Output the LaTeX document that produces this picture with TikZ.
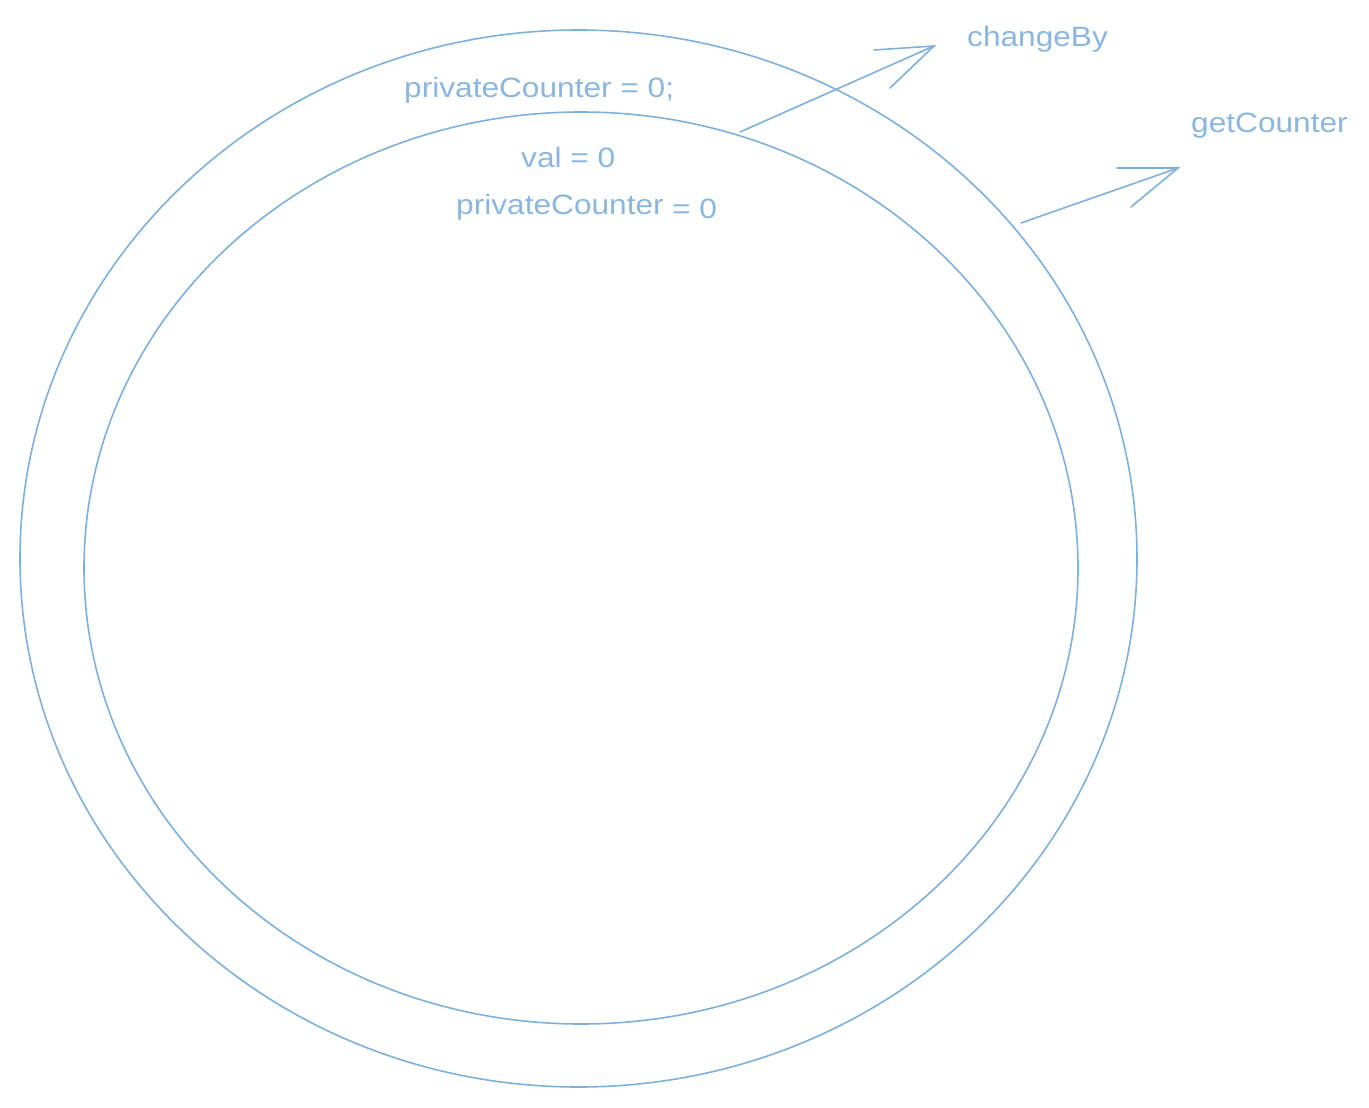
\documentclass[tikz,border=0pt]{standalone}
\usepackage{fontspec}
\setmainfont{Liberation Sans}
\usetikzlibrary{shapes.geometric}
\definecolor{linec}{RGB}{126,176,222}
\definecolor{textc}{RGB}{138,182,224}
\newcommand{\lbltext}[1]{\scalebox{1.13}[1]{\fontsize{28}{32}\selectfont #1}}
\begin{document}
\begin{tikzpicture}[x=1pt,y=-1pt,
  ring/.style={draw=linec,line width=1.6pt,ellipse,inner sep=0pt},
  conn/.style={draw=linec,line width=1.6pt,line cap=round},
  lbl/.style={text=textc,inner sep=0pt,anchor=base west}]
\useasboundingbox (0,0) rectangle (1369,1108);
\node[ring,minimum width=1117pt,minimum height=1057pt] (outer) at (578.5,558.5) {};
\node[ring,minimum width=994pt,minimum height=912pt] (inner) at (581,568) {};
\node[lbl] (pc0) at (404,97) {\lbltext{privateCounter = 0;}};
\node[lbl] (val) at (521,167) {\lbltext{val = 0}};
\node[lbl] (pc) at (456,214) {\lbltext{privateCounter}};
\node[lbl] (eq) at (672,218) {\lbltext{= 0}};
\node[lbl] (chg) at (967,47) {\lbltext{changeBy}};
\node[lbl] (get) at (1191,132) {\lbltext{getCounter}};
\coordinate (a1s) at (740,132);
\coordinate (a1t) at (934,46);
\coordinate (a1l) at (874,50);
\coordinate (a1r) at (890,88);
\coordinate (a2s) at (1021,223);
\coordinate (a2t) at (1178,168);
\coordinate (a2l) at (1117,168);
\coordinate (a2r) at (1131,207);
\draw[conn] (a1s) -- (a1t);
\draw[conn] (a1l) -- (a1t) -- (a1r);
\draw[conn] (a2s) -- (a2t);
\draw[conn] (a2l) -- (a2t) -- (a2r);
\end{tikzpicture}
\end{document}
